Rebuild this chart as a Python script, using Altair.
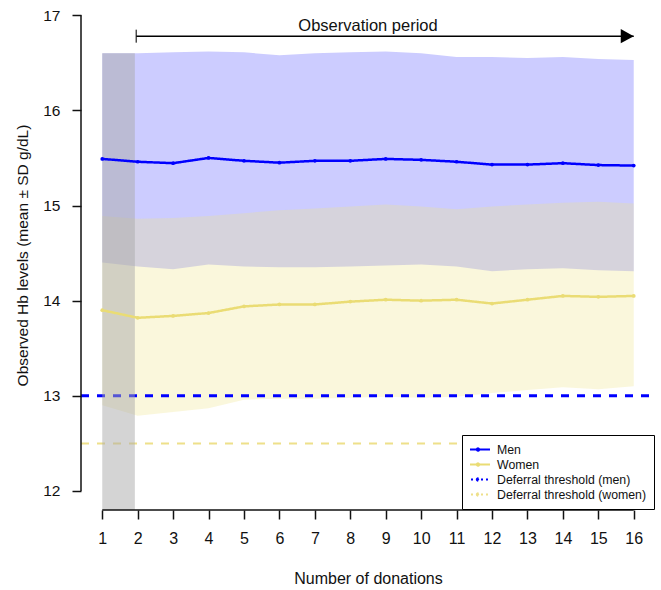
import altair as alt
import pandas as pd

# ---------------- data ----------------
donations = list(range(1, 17))
men_mean = [15.49, 15.46, 15.445, 15.50, 15.47, 15.45, 15.47, 15.47,
            15.49, 15.48, 15.46, 15.43, 15.43, 15.445, 15.425, 15.42]
men_upper = [16.60, 16.60, 16.61, 16.62, 16.61, 16.58, 16.60, 16.61,
             16.62, 16.60, 16.56, 16.56, 16.55, 16.56, 16.54, 16.53]
men_lower = [14.40, 14.36, 14.33, 14.38, 14.36, 14.35, 14.35, 14.36,
             14.37, 14.38, 14.36, 14.31, 14.33, 14.34, 14.32, 14.31]
women_mean = [13.90, 13.82, 13.84, 13.87, 13.94, 13.96, 13.96, 13.99,
              14.01, 14.00, 14.01, 13.97, 14.01, 14.05, 14.04, 14.05]
women_upper = [14.89, 14.86, 14.87, 14.89, 14.92, 14.95, 14.97, 14.99,
               15.01, 14.99, 14.96, 14.99, 15.01, 15.03, 15.04, 15.02]
women_lower = [12.90, 12.79, 12.83, 12.87, 12.96, 12.97, 12.97, 12.98,
               12.99, 12.98, 12.99, 13.03, 13.06, 13.09, 13.07, 13.10]

series_names = ["Men", "Women", "Deferral threshold (men)", "Deferral threshold (women)"]
threshold_values = [13.0, 12.5]
y_ticks = [12, 13, 14, 15, 16, 17]

baseline_start, baseline_end, baseline_top, baseline_bottom = 1.0, 1.92, 16.6, 11.8
obs_start, obs_end, obs_y = 1.96, 16.0, 16.78
obs_label, obs_label_x, obs_label_y = "Observation period", 8.5, 16.835

x_title = "Number of donations"
y_title = "Observed Hb levels (mean \u00b1 SD g/dL)"

# ---------------- styling ----------------
FONT = "Liberation Sans"
W, H = 574, 510
BLUE = "#0000FF"
WOMEN_LINE = "#EADC74"
WOMEN_DASH = "#EEE08A"
colors = [BLUE, WOMEN_LINE, BLUE, WOMEN_DASH]
INK = "#111111"

xs = alt.Scale(domain=[0.4, 16.6], nice=False, zero=False)
ys = alt.Scale(domain=[11.8, 17.16], nice=False, zero=False)
cscale = alt.Scale(domain=series_names, range=colors)
dscale = alt.Scale(domain=series_names, range=[[1, 0], [1, 0], [2, 3], [2, 3]])

X_AX = alt.Axis(values=donations, domain=False, tickSize=9, tickWidth=1.5,
                tickColor=INK, labelFontSize=16, labelPadding=11,
                titleFontSize=16, titlePadding=24, grid=False,
                labelFont=FONT, titleFont=FONT, titleFontWeight="normal",
                labelColor=INK, titleColor=INK)
Y_AX = alt.Axis(values=y_ticks, domain=False, tickSize=9, tickWidth=1.5,
                tickColor=INK, labelFontSize=15.5, labelPadding=12,
                titleFontSize=15.5, titlePadding=12, grid=False,
                labelFont=FONT, titleFont=FONT, titleFontWeight="normal",
                labelColor=INK, titleColor=INK)


def X(field):
    return alt.X(field, scale=xs, axis=X_AX, title=x_title)


def Y(field):
    return alt.Y(field, scale=ys, axis=Y_AX, title=y_title)


legend = alt.Legend(
    title=None, orient="none", legendX=381, legendY=435,
    strokeColor="black", fillColor="white", padding=8,
    labelFont=FONT, labelFontSize=12.3, labelColor=INK,
    symbolType="M-1,0L1,0M-0.1,0A0.1,0.1,0,1,1,0.1,0A0.1,0.1,0,1,1,-0.1,0",
    symbolSize=576, symbolStrokeWidth=2, symbolOffset=-5,
    clipHeight=13, rowPadding=2, labelOffset=6,
)

band_df = pd.DataFrame({
    "x": donations,
    "men_upper": men_upper, "men_lower": men_lower,
    "women_upper": women_upper, "women_lower": women_lower,
})
line_df = pd.DataFrame({
    "x": donations * 2,
    "y": men_mean + women_mean,
    "series": ["Men"] * 16 + ["Women"] * 16,
})
thr_df = pd.DataFrame({"series": series_names[2:], "y": threshold_values})
gray_df = pd.DataFrame({"x": [baseline_start], "x2": [baseline_end],
                        "y": [baseline_top], "y2": [baseline_bottom]})
obs_df = pd.DataFrame({"x": [obs_start], "x2": [obs_end], "y": [obs_y],
                       "label": [obs_label], "lx": [obs_label_x], "ly": [obs_label_y]})
axis_df = pd.DataFrame({"x1": [donations[0]], "x2": [donations[-1]],
                        "y1": [y_ticks[0]], "y2": [y_ticks[-1]]})

base = alt.Chart(band_df)

men_band = base.mark_area(color=BLUE, opacity=0.2).encode(
    x=X("x:Q"), y=Y("men_upper:Q"), y2="men_lower:Q",
)
women_band = base.mark_area(color="#F0E68C", opacity=0.3).encode(
    x=X("x:Q"), y=Y("women_upper:Q"), y2="women_lower:Q",
)

thr_men = alt.Chart(thr_df).transform_filter(
    alt.datum.series == series_names[2]
).mark_rule(strokeDash=[8, 8], strokeWidth=3).encode(
    y=Y("y:Q"),
    x=alt.value(0), x2=alt.value(W),
    color=alt.Color("series:N", scale=cscale, legend=legend),
)
thr_women = alt.Chart(thr_df).transform_filter(
    alt.datum.series == series_names[3]
).mark_rule(strokeDash=[8, 8], strokeWidth=2).encode(
    y=Y("y:Q"),
    x=alt.value(0), x2=alt.value(W),
    color=alt.Color("series:N", scale=cscale, legend=legend),
)

gray = alt.Chart(gray_df).mark_rect(color="#A9A9A9", opacity=0.5).encode(
    x=X("x:Q"), x2="x2:Q", y=Y("y:Q"), y2="y2:Q",
)

lines = alt.Chart(line_df).mark_line(
    strokeWidth=2.5, point=alt.OverlayMarkDef(filled=True, size=14)
).encode(
    x=X("x:Q"), y=Y("y:Q"),
    color=alt.Color("series:N", scale=cscale, legend=legend),
    strokeDash=alt.StrokeDash("series:N", scale=dscale, legend=legend),
    order="x:Q",
)

y_axis_line = alt.Chart(axis_df).mark_rule(color=INK, strokeWidth=1.5).encode(
    x=alt.value(0), y=Y("y1:Q"), y2="y2:Q",
)
x_axis_line = alt.Chart(axis_df).mark_rule(color=INK, strokeWidth=1.5).encode(
    y=alt.value(H), x=X("x1:Q"), x2="x2:Q",
)

obs_line = alt.Chart(obs_df).mark_rule(color="black", strokeWidth=1.5).encode(
    x=X("x:Q"), x2="x2:Q", y=Y("y:Q"),
)
obs_bar = alt.Chart(obs_df).mark_tick(color="black", thickness=1.5, size=13, orient="vertical").encode(
    x=X("x:Q"), y=Y("y:Q"),
)
obs_head = alt.Chart(obs_df).mark_point(
    shape="M-2,-1.1L0,0L-2,1.1Z", filled=True, color="black", opacity=1, size=169
).encode(
    x=X("x2:Q"), y=Y("y:Q"),
)
obs_text = alt.Chart(obs_df).mark_text(
    font=FONT, fontSize=16.5, color=INK, align="center", baseline="alphabetic"
).encode(
    x=X("lx:Q"), y=Y("ly:Q"), text="label:N",
)

chart = alt.layer(
    men_band, women_band, thr_men, thr_women, gray, lines,
    y_axis_line, x_axis_line, obs_line, obs_bar, obs_head, obs_text,
).properties(
    width=W, height=H,
    padding={"left": 81, "top": 0, "right": 6, "bottom": 80},
    autosize=alt.AutoSizeParams(type="none"),
    background="white",
).configure_view(stroke=None)

chart.save("out.html", embed_options={"renderer": "svg", "actions": False})
